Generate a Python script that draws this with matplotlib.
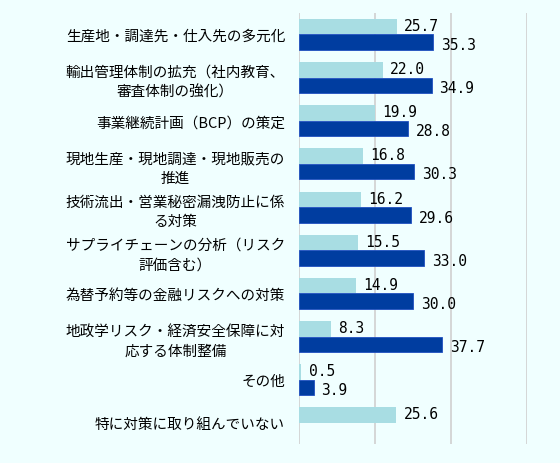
import matplotlib
matplotlib.use("Agg")
import matplotlib.pyplot as plt
import numpy as np

plt.rcParams['font.family'] = ['Noto Sans CJK JP', 'DejaVu Sans']

categories = ["生産地・調達先・仕入先の多元化", "輸出管理体制の拡充（社内教育、\n審査体制の強化）",
              "事業継続計画（BCP）の策定", "現地生産・現地調達・現地販売の\n推進",
              "技術流出・営業秘密漏洩防止に係\nる対策", "サプライチェーンの分析（リスク\n評価含む）",
              "為替予約等の金融リスクへの対策", "地政学リスク・経済安全保障に対\n応する体制整備",
              "その他", "特に対策に取り組んでいない"]
series1 = [25.7, 22.0, 19.9, 16.8, 16.2, 15.5, 14.9, 8.3, 0.5, 25.6]
series2 = [35.3, 34.9, 28.8, 30.3, 29.6, 33.0, 30.0, 37.7, 3.9, None]

fig = plt.figure(figsize=(5.6, 4.64), dpi=100)
fig.patch.set_facecolor('#F0FFFF')
ax = fig.add_axes([0.534, 0.04, 0.407, 0.93])
ax.set_facecolor('#F0FFFF')
n = len(categories)
y = np.arange(n)
h = 0.36
for i in range(n):
    a = series1[i]
    ax.barh(i - h/2, a, height=h, color='#A8DDE3', zorder=2)
    ax.text(a + 2, i - h/2 - 0.03, f"{a:.1f}", va='center', ha='left', fontsize=10.5, family='DejaVu Sans Mono')
    b = series2[i]
    if b is not None:
        ax.barh(i + h/2, b, height=h, color='#003DA0', edgecolor='#2050C0', linewidth=0.6, zorder=2)
        ax.text(b + 2, i + h/2 + 0.05, f"{b:.1f}", va='center', ha='left', fontsize=10.5, family='DejaVu Sans Mono')
ax.set_xlim(0, 60)
ax.set_ylim(n - 0.5, -0.5)
ax.set_xticks([0, 20, 40, 60])
ax.xaxis.grid(True, color='#D0D0D0', linewidth=1.2, zorder=0)
ax.tick_params(axis='x', labelbottom=False, length=0)
ax.set_yticks(y)
ax.set_yticklabels(categories, fontsize=10.5, linespacing=1.5, multialignment='center')
ax.tick_params(axis='y', length=0, pad=10)
for s in ax.spines.values():
    s.set_visible(False)
fig.savefig("out.png", dpi=100, facecolor=fig.get_facecolor())
